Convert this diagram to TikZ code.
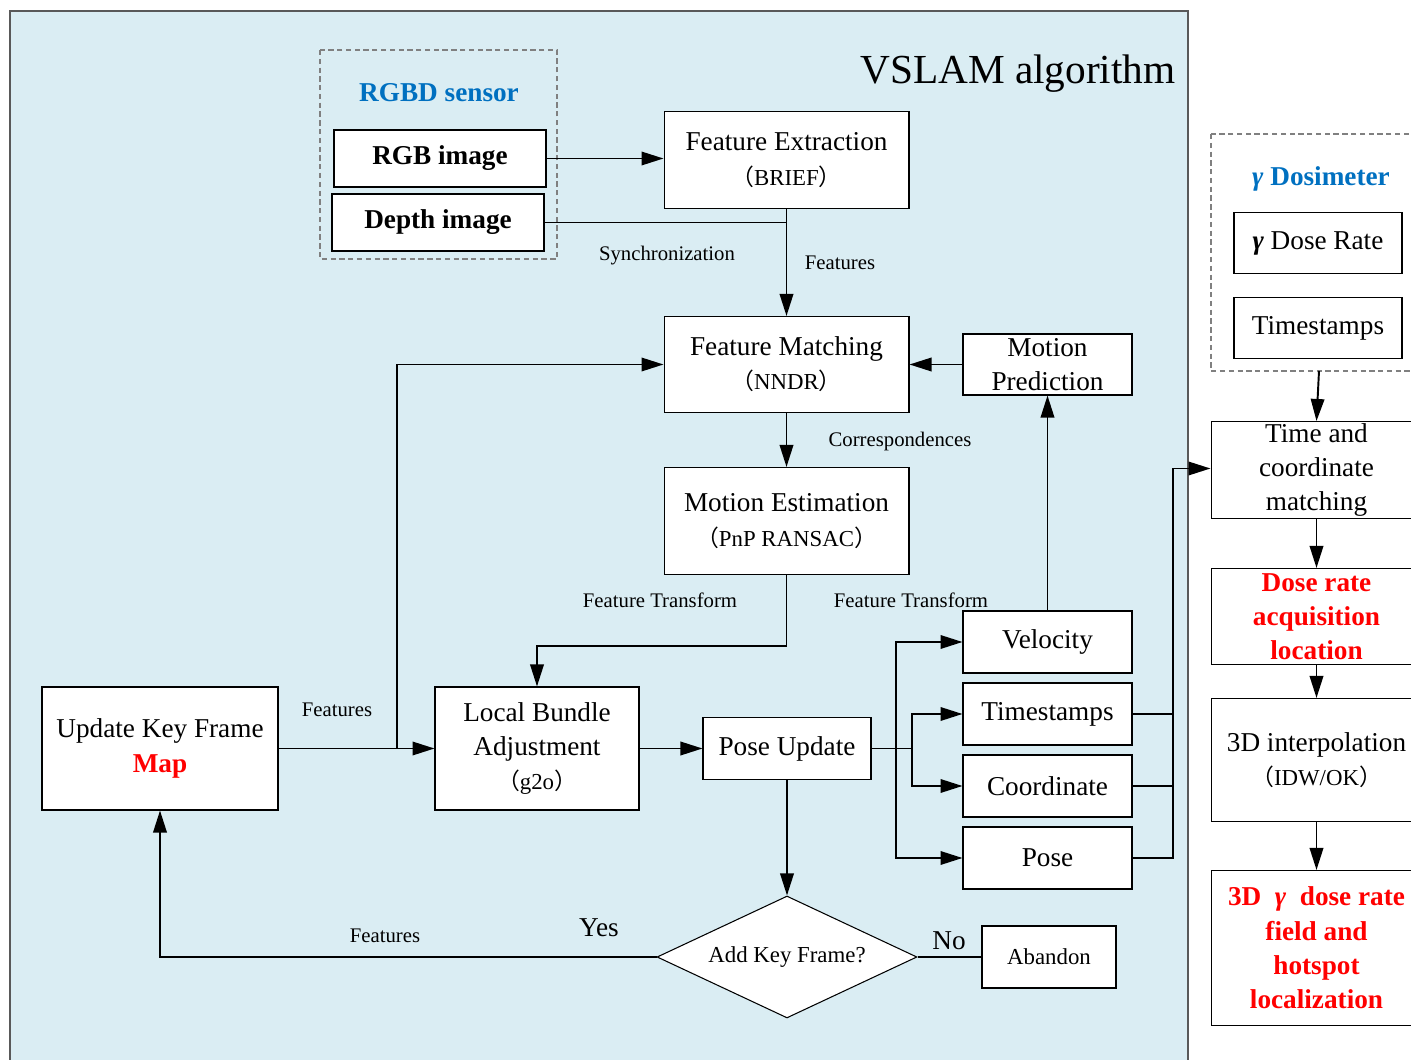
\documentclass[tikz,border=0pt]{standalone}
\usepackage{fontspec}
\setmainfont{Liberation Serif}
\newfontfamily\cjk{Noto Sans CJK SC}
\usetikzlibrary{arrows.meta,shapes.geometric}

\definecolor{panelblue}{HTML}{DAEDF3}
\definecolor{titleblue}{HTML}{0070C0}
\definecolor{hotred}{HTML}{FF0000}

% second line of a box, in full-width brackets
\newcommand{\subline}[1]{{\fontsize{13}{16}\selectfont{\cjk （}#1{\cjk ）}}}
\newcommand{\gam}{\textbf{\textit{γ}}}

\begin{document}
\begin{tikzpicture}[x=0.02cm, y=-0.02cm,
    box/.style={draw, fill=white, line width=0.6pt, inner sep=0pt, align=center, font=\fontsize{15.5}{19.5}\selectfont},
    bbox/.style={box, font=\fontsize{15.5}{19.5}\selectfont\bfseries},
    redbox/.style={bbox, text=hotred},
    lbl/.style={inner sep=1pt, font=\fontsize{11.8}{14}\selectfont},
    big/.style={inner sep=1pt, font=\fontsize{15.5}{19.5}\selectfont},
    line/.style={line width=1.1pt},
    arr/.style={line, -{Triangle[length=0.44cm,width=0.27cm]}},
    dashbox/.style={draw=gray, line width=0.6pt, dash pattern=on 3pt off 2pt}]

    \clip (0,0) rectangle (1411,1060);

    % Panel
    \draw[fill=panelblue, draw=black!65, line width=1pt] (10,11) rectangle (1188,1080);
    \node[inner sep=0pt, font=\fontsize{23.5}{28}\selectfont] (title) at (1018,74) {VSLAM algorithm};

    % RGBD sensor
    \draw[dashbox] (320,50) rectangle (557,259);
    \node[big, text=titleblue, font=\fontsize{15.5}{19.5}\selectfont\bfseries] (rgbdt) at (439,93) {RGBD sensor};
    \node[bbox, minimum width=4.24cm, minimum height=1.14cm] (rgb) at (440,158.5) {RGB image};
    \node[bbox, minimum width=4.24cm, minimum height=1.14cm] (depth) at (438,222.5) {Depth image};

    % VSLAM boxes
    \node[box, minimum width=4.9cm, minimum height=1.94cm] (fe) at (786.5,160) {Feature Extraction\\\subline{BRIEF}};
    \node[box, minimum width=4.9cm, minimum height=1.92cm] (fm) at (786.5,364.5) {Feature Matching\\\subline{NNDR}};
    \node[box, minimum width=3.38cm, minimum height=1.22cm] (mp) at (1047.5,364.5) {Motion\\Prediction};
    \node[box, minimum width=4.9cm, minimum height=2.14cm] (me) at (786.5,521) {Motion Estimation\\\subline{PnP RANSAC}};
    \node[box, minimum width=4.08cm, minimum height=2.46cm] (lba) at (537,748.5) {Local Bundle\\Adjustment\\\subline{g2o}};
    \node[box, minimum width=4.72cm, minimum height=2.46cm] (ukf) at (160,748.5) {Update Key Frame\\\textcolor{hotred}{\textbf{Map}}};
    \node[box, minimum width=3.36cm, minimum height=1.24cm] (pu) at (787,748.5) {Pose Update};
    \node[box, minimum width=3.38cm, minimum height=1.24cm] (vel) at (1047.5,642) {Velocity};
    \node[box, minimum width=3.38cm, minimum height=1.24cm] (ts) at (1047.5,714) {Timestamps};
    \node[box, minimum width=3.38cm, minimum height=1.24cm] (co) at (1047.5,786) {Coordinate};
    \node[box, minimum width=3.38cm, minimum height=1.24cm] (po) at (1047.5,858) {Pose};
    \node[box, diamond, shape aspect=2.13, minimum width=5.2cm, minimum height=2.44cm, font=\fontsize{13}{16}\selectfont] (dia) at (787,957) {Add Key Frame?};
    \node[box, minimum width=2.68cm, minimum height=1.24cm, font=\fontsize{13}{16}\selectfont] (ab) at (1049,957) {Abandon};

    % Dosimeter
    \draw[dashbox] (1211,134) rectangle (1420,371);
    \coordinate (dosi) at (1319,371);
    \node[big, text=titleblue, font=\fontsize{15.5}{19.5}\selectfont\bfseries] (dosit) at (1321,179) {\textit{γ} Dosimeter};
    \node[box, minimum width=3.36cm, minimum height=1.22cm] (dr) at (1318,243) {\gam\ Dose Rate};
    \node[box, minimum width=3.36cm, minimum height=1.22cm] (ts2) at (1318,328) {Timestamps};
    \node[box, minimum width=4.22cm, minimum height=1.94cm] (tcm) at (1316.5,470) {Time and\\coordinate\\matching};
    \node[redbox, minimum width=4.22cm, minimum height=1.92cm] (dra) at (1316.5,616.5) {Dose rate\\acquisition\\location};
    \node[box, minimum width=4.22cm, minimum height=2.46cm] (idw) at (1316.5,760) {3D interpolation\\\subline{IDW/OK}};
    \node[redbox, minimum width=4.22cm, minimum height=3.1cm] (fin) at (1316.5,948) {3D\ \ \textit{γ}\ \ dose rate\\field and\\hotspot\\localization};

    % Labels
    \node[lbl] (sync) at (667,256) {Synchronization};
    \node[lbl] (feat1) at (840,263) {Features};
    \node[lbl] (corr) at (900,442) {Correspondences};
    \node[lbl] (ft1) at (660,600) {Feature Transform};
    \node[lbl] (ft2) at (911,600) {Feature Transform};
    \node[lbl] (feat2) at (337,710) {Features};
    \node[lbl] (feat3) at (385,936) {Features};
    \node[big] (yes) at (599,928) {Yes};
    \node[big] (no) at (949,941) {No};

    % Sensor to matching
    \draw[arr] (rgb.east) -- (rgb.east -| fe.west);
    \draw[line] (depth.east) -- (depth.east -| fe.south);
    \draw[arr] (fe) -- (fm);
    \draw[arr] (mp.west) -- (mp.west -| fm.east);
    \draw[arr] (fm) -- (me);
    \draw[arr] (me.south) -- ++(0,71) -| (lba.north);
    \draw[arr] (vel) -- (mp);

    % Key frame loop
    \coordinate (split) at (397,748.5);
    \draw[arr] (ukf.east) -- (ukf.east -| lba.west);
    \draw[arr] (split) |- (fm.west);
    \draw[arr] (lba.east) -- (lba.east -| pu.west);

    % Pose update outputs
    \coordinate (b1) at (896,748.5);
    \coordinate (b2) at (912,748.5);
    \draw[line] (pu.east) -- (b2);
    \draw[arr] (b1) |- (vel.west);
    \draw[arr] (b1) |- (po.west);
    \draw[arr] (b2) |- (ts.west);
    \draw[arr] (b2) |- (co.west);
    \coordinate (bus) at (1173,468.5);
    \draw[line] (ts.east) -- (ts.east -| bus);
    \draw[line] (co.east) -- (co.east -| bus);
    \draw[arr] (po.east) -| (bus) -- (bus -| tcm.west);

    % Key frame decision
    \draw[arr] (pu) -- (dia);
    \draw[arr] (dia.west) -| (ukf.south);
    \draw[line] (dia.east) -- (ab.west);

    % Dose chain
    \draw[arr] (dosi) -- (tcm.north);
    \draw[arr] (tcm) -- (dra);
    \draw[arr] (dra) -- (idw);
    \draw[arr] (idw) -- (fin);
\end{tikzpicture}
\end{document}
